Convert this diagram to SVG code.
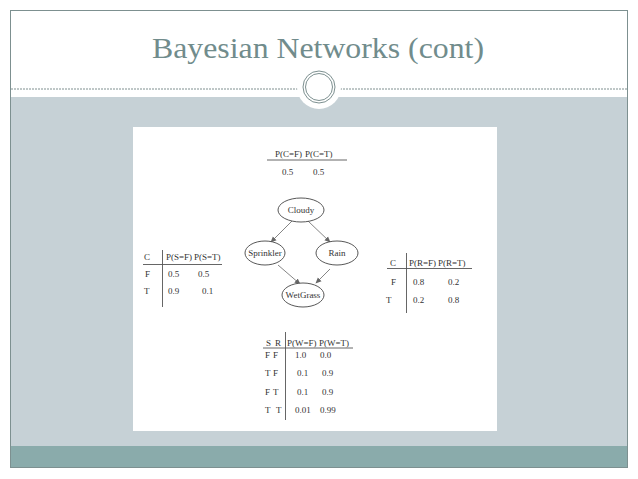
<svg xmlns="http://www.w3.org/2000/svg" width="638" height="479" viewBox="0 0 638 479">
<defs>
<style>
.t{font-family:"Liberation Serif","Times New Roman",serif;font-size:9px;fill:#333}
.tm{font-family:"Liberation Serif","Times New Roman",serif;font-size:9px;fill:#333;text-anchor:middle}
.ln{stroke:#555;stroke-width:0.9;fill:none}
.nd{fill:#fff;stroke:#444;stroke-width:0.9}
.ed{stroke:#777;stroke-width:0.9;fill:none;marker-end:url(#ah)}
</style>
<marker id="ah" viewBox="0 0 8 8" refX="7" refY="4" markerWidth="6" markerHeight="6" orient="auto" markerUnits="userSpaceOnUse">
<path d="M0,0.5 L8,4 L0,7.5 Z" fill="#666"/>
</marker>
</defs>
<rect x="0" y="0" width="638" height="479" fill="#fff"/>
<g id="slide">
<rect x="11" y="97" width="616" height="349" fill="#c6d1d6"/>
<rect x="11" y="446" width="616" height="21" fill="#8aabab"/>
<rect x="10.5" y="10.5" width="617" height="457" fill="none" stroke="#7d9090" stroke-width="1"/>
<line x1="11" y1="89" x2="298" y2="89" stroke="#7f8f8f" stroke-width="1" stroke-dasharray="2,1"/>
<line x1="340" y1="89" x2="627" y2="89" stroke="#7f8f8f" stroke-width="1" stroke-dasharray="2,1"/>
<circle cx="319" cy="87" r="22" fill="#fff"/>
<circle cx="319" cy="87" r="16" fill="none" stroke="#7d9090" stroke-width="1"/>
<circle cx="319" cy="87" r="13.5" fill="none" stroke="#7d9090" stroke-width="1"/>
<text x="318" y="58" text-anchor="middle" font-family="Liberation Serif,'Times New Roman',serif" font-size="30" fill="#718c8c" textLength="332" lengthAdjust="spacingAndGlyphs">Bayesian Networks (cont)</text>
<rect x="133" y="127" width="364" height="304" fill="#fff"/>
</g>
<g id="connectors">
<line class="ed" x1="293" y1="220" x2="271" y2="242"/>
<line class="ed" x1="308" y1="221" x2="330" y2="242"/>
<line class="ed" x1="278" y1="265" x2="300" y2="284"/>
<line class="ed" x1="330" y1="269" x2="316" y2="283"/>
</g>
<g id="cloudy">
<ellipse class="nd" cx="301" cy="210" rx="23" ry="12"/>
<text class="tm" x="301" y="213">Cloudy</text>
</g>
<g id="sprinkler">
<ellipse class="nd" cx="265" cy="253" rx="20" ry="12"/>
<text class="tm" x="265" y="256">Sprinkler</text>
</g>
<g id="rain">
<ellipse class="nd" cx="337" cy="253" rx="21" ry="12"/>
<text class="tm" x="337" y="256">Rain</text>
</g>
<g id="wetgrass">
<ellipse class="nd" cx="303" cy="295" rx="21" ry="12"/>
<text class="tm" x="303" y="298">WetGrass</text>
</g>
<g id="table-c">
<text class="t" x="275" y="157">P(C=F)</text>
<text class="t" x="305" y="157">P(C=T)</text>
<line class="ln" x1="267" y1="160" x2="347" y2="160"/>
<text class="t" x="282" y="175">0.5</text>
<text class="t" x="313" y="175">0.5</text>
</g>
<g id="table-s">
<text class="t" x="144" y="260">C</text>
<text class="t" x="166" y="260">P(S=F)</text>
<text class="t" x="194" y="260">P(S=T)</text>
<line class="ln" x1="143" y1="264.5" x2="222" y2="264.5"/>
<line class="ln" x1="162.5" y1="250" x2="162.5" y2="307"/>
<text class="t" x="145" y="277">F</text>
<text class="t" x="168" y="277">0.5</text>
<text class="t" x="198" y="277">0.5</text>
<text class="t" x="144" y="294">T</text>
<text class="t" x="168" y="294">0.9</text>
<text class="t" x="202" y="294">0.1</text>
</g>
<g id="table-r">
<text class="t" x="390" y="266">C</text>
<text class="t" x="409" y="266">P(R=F)</text>
<text class="t" x="438" y="266">P(R=T)</text>
<line class="ln" x1="387" y1="268.5" x2="472" y2="268.5"/>
<line class="ln" x1="406.5" y1="253" x2="406.5" y2="313"/>
<text class="t" x="391" y="285">F</text>
<text class="t" x="413" y="285">0.8</text>
<text class="t" x="448" y="285">0.2</text>
<text class="t" x="386" y="303">T</text>
<text class="t" x="413" y="303">0.2</text>
<text class="t" x="448" y="303">0.8</text>
</g>
<g id="table-w">
<text class="t" x="266" y="346">S</text>
<text class="t" x="275" y="346">R</text>
<text class="t" x="287" y="346">P(W=F)</text>
<text class="t" x="319" y="346">P(W=T)</text>
<line class="ln" x1="263" y1="348" x2="353" y2="348"/>
<line class="ln" x1="285.5" y1="332" x2="285.5" y2="420"/>
<text class="t" x="265" y="358">F</text>
<text class="t" x="273" y="358">F</text>
<text class="t" x="295" y="358">1.0</text>
<text class="t" x="320" y="358">0.0</text>
<text class="t" x="265" y="376">T</text>
<text class="t" x="273" y="376">F</text>
<text class="t" x="297" y="376">0.1</text>
<text class="t" x="322" y="376">0.9</text>
<text class="t" x="265" y="395">F</text>
<text class="t" x="273" y="395">T</text>
<text class="t" x="297" y="395">0.1</text>
<text class="t" x="322" y="395">0.9</text>
<text class="t" x="265" y="413">T</text>
<text class="t" x="276" y="413">T</text>
<text class="t" x="295" y="413">0.01</text>
<text class="t" x="320" y="413">0.99</text>
</g>
</svg>
